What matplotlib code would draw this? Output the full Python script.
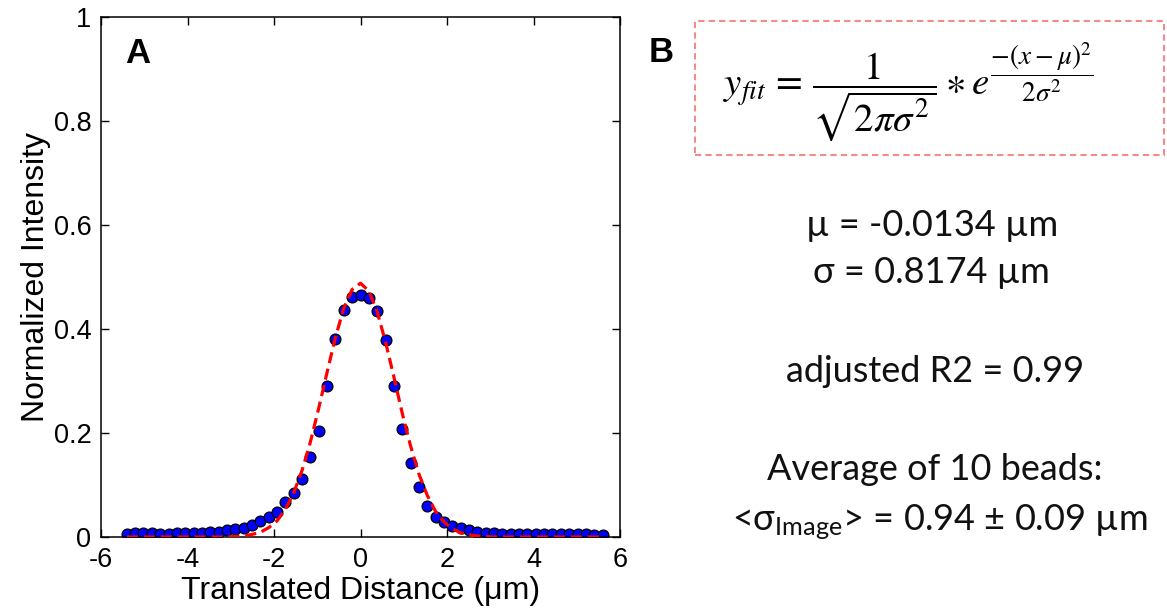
import matplotlib
matplotlib.use("Agg")
import matplotlib.pyplot as plt
from matplotlib.patches import Rectangle

plt.rcParams["font.family"] = ["Liberation Sans", "DejaVu Sans"]
plt.rcParams["mathtext.fontset"] = "custom"
plt.rcParams["mathtext.rm"] = "Lato"
plt.rcParams["mathtext.it"] = "Lato:italic"

# measured profile (translated distance in um, normalized intensity)
DIST = [i * 0.193 for i in range(-28, 30)]
INTENSITY = [
    0.005, 0.007, 0.007, 0.007, 0.005, 0.005, 0.007, 0.008, 0.008, 0.008,
    0.009, 0.010, 0.013, 0.015, 0.018, 0.023, 0.031, 0.038, 0.049, 0.068,
    0.084, 0.111, 0.153, 0.203, 0.290, 0.380, 0.437, 0.461, 0.465, 0.459,
    0.435, 0.378, 0.290, 0.207, 0.143, 0.096, 0.060, 0.038, 0.029, 0.022,
    0.017, 0.013, 0.010, 0.008, 0.007, 0.006, 0.005, 0.006, 0.005, 0.005,
    0.006, 0.005, 0.006, 0.005, 0.006, 0.005, 0.004, 0.003,
]
# gaussian fit, read at the same positions
FIT = [
    0.000, 0.000, 0.000, 0.000, 0.000, 0.000, 0.000, 0.000, 0.000, 0.000,
    0.000, 0.000, 0.000, 0.001, 0.002, 0.005, 0.009, 0.018, 0.031, 0.053,
    0.085, 0.128, 0.183, 0.248, 0.317, 0.384, 0.440, 0.476, 0.488, 0.473,
    0.433, 0.375, 0.308, 0.238, 0.175, 0.121, 0.080, 0.049, 0.029, 0.016,
    0.008, 0.004, 0.002, 0.001, 0.000, 0.000, 0.000, 0.000, 0.000, 0.000,
    0.000, 0.000, 0.000, 0.000, 0.000, 0.000, 0.000, 0.000,
]
X_TICKS = [-6, -4, -2, 0, 2, 4, 6]
Y_TICKS = [0, 0.2, 0.4, 0.6, 0.8, 1]
Y_TICK_LABELS = ["0", "0.2", "0.4", "0.6", "0.8", "1"]

W, H = 1167, 615
fig = plt.figure(figsize=(W / 100, H / 100), dpi=100)
ax = fig.add_axes([101 / W, 1 - 537 / H, 519 / W, 520 / H])

ax.plot(DIST, INTENSITY, "o", color="#0000ff", markeredgecolor="black",
        markeredgewidth=0.9, markersize=7.8, zorder=2)
ax.plot(DIST, FIT, color="#ff0000", lw=2.3, dashes=(3.5, 1.8), zorder=3)

ax.set_xlim(-6, 6)
ax.set_ylim(0, 1)
ax.set_xticks(X_TICKS)
ax.set_xticklabels([str(t) for t in X_TICKS])
ax.set_yticks(Y_TICKS)
ax.set_yticklabels(Y_TICK_LABELS)
ax.tick_params(direction="in", length=6, width=1, top=True, right=True,
               labelsize=19.5, pad=7)
for s in ax.spines.values():
    s.set_linewidth(1.1)
ax.set_xlabel("Translated Distance (\u03bcm)", fontsize=23, labelpad=2)
ax.set_ylabel("Normalized Intensity", fontsize=23, labelpad=2)
ax.text(0.07, 0.93, "A", transform=ax.transAxes, fontsize=25,
        fontweight="bold", ha="center", va="center")

fig.text(661 / W, 1 - 53 / H, "B", fontsize=25, fontweight="bold",
         ha="center", va="center")

# formula box
fig.patches.append(Rectangle((695 / W, 1 - 155 / H), 469 / W, 134 / H,
                             transform=fig.transFigure, fill=False,
                             edgecolor="#f28b8b", lw=1.5, ls=(0, (3, 2))))
fig.text(908 / W, 1 - 92 / H,
         r"$y_{fit}\,=\,\dfrac{1}{\sqrt{2\pi\sigma^2}}\ast e^{\dfrac{-(x-\mu)^2}{2\sigma^2}}$",
         fontsize=28, math_fontfamily="stix", ha="center", va="center")

rfont = dict(family=["Lato", "DejaVu Sans"], fontsize=26, ha="center",
             va="center", color="#111111")
fig.text(932 / W, 1 - 225 / H, "\u00b5 = -0.0134 \u00b5m", **rfont)
fig.text(931 / W, 1 - 273 / H, "\u03c3 = 0.8174 \u00b5m", **rfont)
fig.text(935 / W, 1 - 372 / H, "adjusted R2 = 0.99", **rfont)
fig.text(935 / W, 1 - 470 / H, "Average of 10 beads:", **rfont)
fig.text(940 / W, 1 - 522 / H,
         "<\u03c3$_{\\mathrm{Image}}$> = 0.94 \u00b1 0.09 \u00b5m", **rfont)

fig.savefig("out.png", dpi=100)
